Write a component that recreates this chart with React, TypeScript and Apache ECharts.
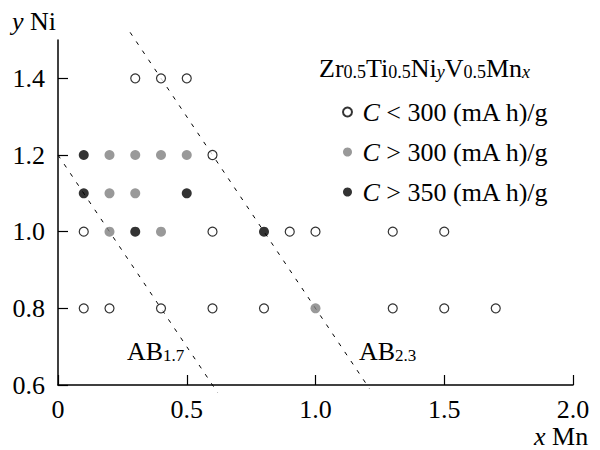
import React, { useEffect, useRef } from "react";
import * as echarts from "echarts";

const FONT = "Liberation Serif";

// Capacity groups: [Mn x, Ni y]
const lowX = [0.3, 0.4, 0.5, 0.6, 0.1, 0.6, 0.9, 1.0, 1.3, 1.5, 0.1, 0.2, 0.4, 0.6, 0.8, 1.3, 1.5, 1.7];
const lowY = [1.4, 1.4, 1.4, 1.2, 1.0, 1.0, 1.0, 1.0, 1.0, 1.0, 0.8, 0.8, 0.8, 0.8, 0.8, 0.8, 0.8, 0.8];
const midX = [0.2, 0.3, 0.4, 0.5, 0.2, 0.3, 0.2, 0.4, 1.0];
const midY = [1.2, 1.2, 1.2, 1.2, 1.1, 1.1, 1.0, 1.0, 0.8];
const highX = [0.1, 0.1, 0.5, 0.3, 0.8];
const highY = [1.2, 1.1, 1.1, 1.0, 1.0];

// Boundary lines
const ab17X = [0.0, 0.62];
const ab17Y = [1.2, 0.58];
const ab23X = [0.28, 1.21];
const ab23Y = [1.52, 0.59];

const xTicks = [0, 0.5, 1.0, 1.5, 2.0];
const yTicks = [0.6, 0.8, 1.0, 1.2, 1.4];

const seriesNames = ["C < 300 (mA h)/g", "C > 300 (mA h)/g", "C > 350 (mA h)/g"];

const zip = (xs: number[], ys: number[]) => xs.map((x, i) => [x, ys[i]]);

export default function App() {
  const ref = useRef<HTMLDivElement>(null);
  useEffect(() => {
    if (!ref.current) return;
    const chart = echarts.init(ref.current, undefined, { renderer: "svg" });
    const FS = 26;
    const axisCommon = {
      axisLine: { lineStyle: { color: "#000", width: 1.5 } },
      splitLine: { show: false },
      axisTick: { inside: true, length: 10, lineStyle: { color: "#000", width: 1.2 } },
      axisLabel: { color: "#000", fontFamily: FONT, fontSize: FS },
    };
    const dashed = { color: "#000", width: 1, type: [4, 7] as number[] };
    const sub = (italic: boolean, size: number) => ({
      fontFamily: FONT,
      fontSize: size,
      lineHeight: 15,
      verticalAlign: "bottom",
      fontStyle: italic ? "italic" : "normal",
      color: "#000",
    });
    const main = { fontFamily: FONT, fontSize: FS, lineHeight: 30, verticalAlign: "bottom", color: "#000" };
    const ital = { fontFamily: FONT, fontSize: FS, lineHeight: 26, fontStyle: "italic", color: "#000" };
    const plain = { fontFamily: FONT, fontSize: FS, lineHeight: 26, color: "#000" };
    chart.setOption({
      animation: false,
      textStyle: { fontFamily: FONT },
      grid: { left: 58, right: 27, top: 40, bottom: 65 },
      xAxis: {
        type: "value",
        min: 0,
        max: 2.0,
        interval: 0.5,
        ...axisCommon,
        axisLabel: {
          ...axisCommon.axisLabel,
          margin: 11,
          formatter: (v: number) => (v === 0 ? "0" : v.toFixed(1)),
          customValues: xTicks,
        },
        axisTick: { ...axisCommon.axisTick, customValues: xTicks },
      },
      yAxis: {
        type: "value",
        min: 0.6,
        max: 1.5,
        interval: 0.2,
        ...axisCommon,
        axisLabel: {
          ...axisCommon.axisLabel,
          margin: 13,
          formatter: (v: number) => v.toFixed(1),
          customValues: yTicks,
        },
        axisTick: { ...axisCommon.axisTick, customValues: yTicks },
      },
      legend: {
        orient: "vertical",
        left: 342,
        top: 99,
        padding: 0,
        itemWidth: 20,
        itemHeight: 9,
        itemGap: 14,
        icon: "circle",
        data: seriesNames,
        formatter: (name: string) => "{i|C}{t|" + name.slice(1) + "}",
        textStyle: {
          color: "#000",
          fontFamily: FONT,
          fontSize: FS,
          lineHeight: 26,
          rich: { i: ital, t: plain },
        },
      },
      graphic: [
        {
          type: "text",
          left: 12,
          top: 8,
          style: { text: "{i|y}{t| Ni}", fill: "#000", rich: { i: ital, t: plain } },
        },
        {
          type: "text",
          left: 534,
          top: 423,
          style: {
            text: "{i|x}{t| Mn}",
            fill: "#000",
            rich: { i: { ...ital, lineHeight: 22 }, t: { ...plain, lineHeight: 22 } },
          },
        },
        {
          type: "text",
          left: 319,
          top: 55,
          style: {
            text: "{m|Zr}{s|0.5}{m|Ti}{s|0.5}{m|Ni}{si|y}{m|V}{s|0.5}{m|Mn}{si|x}",
            fill: "#000",
            rich: { m: main, s: sub(false, 18), si: sub(true, 18) },
          },
        },
        {
          type: "text",
          left: 127,
          top: 338,
          style: { text: "{m|AB}{s|1.7}", fill: "#000", rich: { m: main, s: sub(false, 17) } },
        },
        {
          type: "text",
          left: 359,
          top: 338,
          style: { text: "{m|AB}{s|2.3}", fill: "#000", rich: { m: main, s: sub(false, 17) } },
        },
      ],
      series: [
        {
          type: "line",
          data: zip(ab17X, ab17Y),
          symbol: "none",
          clip: false,
          lineStyle: dashed,
          silent: true,
        },
        {
          type: "line",
          data: zip(ab23X, ab23Y),
          symbol: "none",
          clip: false,
          lineStyle: dashed,
          silent: true,
        },
        {
          name: seriesNames[0],
          type: "scatter",
          data: zip(lowX, lowY),
          symbol: "circle",
          symbolSize: 9,
          itemStyle: { color: "#fff", borderColor: "#000", borderWidth: 1.2 },
          z: 5,
        },
        {
          name: seriesNames[1],
          type: "scatter",
          data: zip(midX, midY),
          symbol: "circle",
          symbolSize: 10,
          itemStyle: { color: "#808080" },
          z: 5,
        },
        {
          name: seriesNames[2],
          type: "scatter",
          data: zip(highX, highY),
          symbol: "circle",
          symbolSize: 10,
          itemStyle: { color: "#000" },
          z: 5,
        },
      ],
    });
    return () => chart.dispose();
  }, []);
  return <div ref={ref} style={{ width: 600, height: 450, position: "absolute", left: 0, top: 0 }} />;
}
